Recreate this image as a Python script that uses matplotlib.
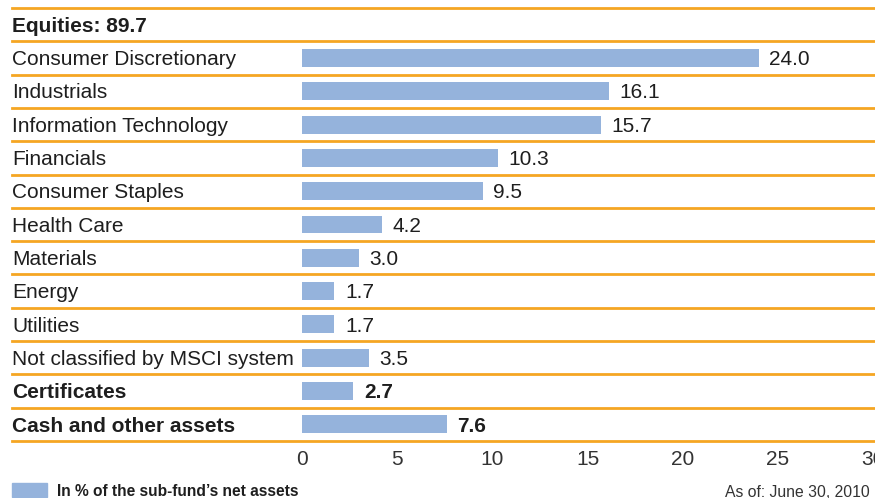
import matplotlib.pyplot as plt
from matplotlib.patches import Rectangle
import matplotlib.transforms as mtrans

plt.rcParams['font.family'] = ['Liberation Sans', 'DejaVu Sans']

header = 'Equities: 89.7'
sectors = ['Consumer Discretionary', 'Industrials', 'Information Technology',
           'Financials', 'Consumer Staples', 'Health Care', 'Materials',
           'Energy', 'Utilities', 'Not classified by MSCI system']
sector_vals = [24.0, 16.1, 15.7, 10.3, 9.5, 4.2, 3.0, 1.7, 1.7, 3.5]
others = ['Certificates', 'Cash and other assets']
other_vals = [2.7, 7.6]
xticks = [0, 5, 10, 15, 20, 25, 30]

bar_col = '#95b3dc'
line_col = '#f5a623'
txt_col = '#1e1e1e'
fs = 15

fig = plt.figure(figsize=(8.75, 4.98), dpi=100)
ax = fig.add_axes([12/875, 1 - 441/498, 863/875, 433/498])
ax.set_xlim(-15.24, 30.1)
ax.set_ylim(13, 0)
ax.axis('off')

lbl = mtrans.blended_transform_factory(ax.transAxes, ax.transData)

rows = [(header, None, True)]
rows += [(n, v, False) for n, v in zip(sectors, sector_vals)]
rows += [(n, v, True) for n, v in zip(others, other_vals)]

for i, (name, val, bold) in enumerate(rows):
    y = i + 0.55
    ax.text(0.0, y, name, transform=lbl, va='center', ha='left', fontsize=fs,
            fontweight='bold' if bold else 'normal', color=txt_col)
    if val is not None:
        ax.barh(i + 0.5, val, height=0.54, color=bar_col, left=0)
        ax.text(val + 0.55, y, f'{val:.1f}', va='center', ha='left', fontsize=fs,
                fontweight='bold' if bold else 'normal', color=txt_col)

for k in range(14):
    ax.axhline(k, color=line_col, lw=2.0, clip_on=False)

for t in xticks:
    ax.text(t, 13.57, str(t), ha='center', va='center', fontsize=fs,
            color='#333333', clip_on=False)

fig.patches.append(Rectangle((12/875, 1 - 497/498), 35/875, 14/498,
                             transform=fig.transFigure, color=bar_col))
fig.text(57/875, 1 - 491/498, 'In % of the sub-fund\u2019s net assets', fontsize=11.2,
         fontweight='bold', va='center', ha='left', color=txt_col)
fig.text(870/875, 1 - 492/498, 'As of: June 30, 2010', fontsize=11.3,
         va='center', ha='right', color='#333333')

fig.savefig('out.png', dpi=100)
